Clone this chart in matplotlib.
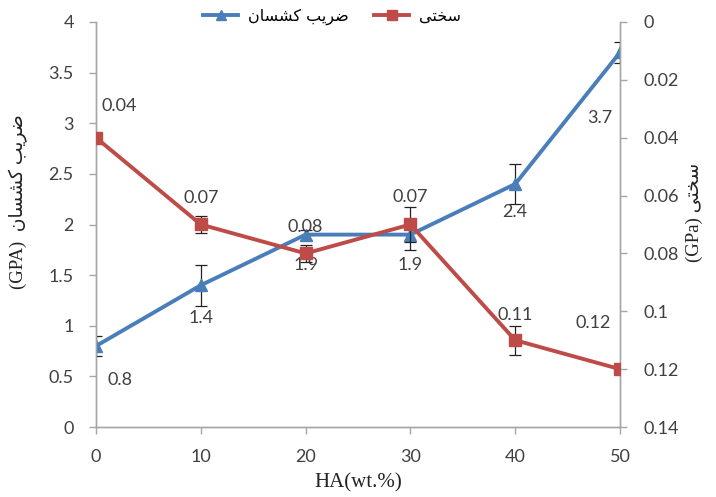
import matplotlib
matplotlib.use("Agg")
import matplotlib.pyplot as plt
from matplotlib.ticker import FuncFormatter
from matplotlib.lines import Line2D

# Data
ha_wt = [0, 10, 20, 30, 40, 50]
modulus = [0.8, 1.4, 1.9, 1.9, 2.4, 3.7]          # GPa, left axis
modulus_err = [0.1, 0.2, 0.05, 0.15, 0.2, 0.1]
hardness = [0.04, 0.07, 0.08, 0.07, 0.11, 0.12]    # GPa, right axis (inverted)
hardness_err = [0.0, 0.003, 0.003, 0.006, 0.005, 0.0]

# Persian labels, written in presentation forms in visual order
name_modulus = "\uFEE5\uFE8E\uFEB4\uFEB8\uFEDB \uFE90\uFEF3\uFEAE\uFEBF"   # ضریب کشسان
name_hardness = "\uFEF0\uFE98\uFEA8\uFEB3"                              # سختی

# offsets (pixels) for value labels
mod_label_off = [(24, -34), (0, -33), (0, -30), (0, -30), (0, -28), (-20, -66)]
hard_label_off = [(23, 32), (0, 26), (0, 26), (0, 27), (0, 25), (-27, 46)]

blue = "#4A7EBB"
red = "#BE4B48"
spine_c = "#A6A6A6"
txt_c = "#404040"
tick_font = "Lato"
num_size = 13

fig = plt.figure(figsize=(7.16, 4.97), dpi=100)
ax = fig.add_axes([96 / 716, 1 - 427 / 497, 524 / 716, 405 / 497])
ax2 = ax.twinx()

ax.errorbar(ha_wt, modulus, yerr=modulus_err, color=blue, lw=2.8, marker="^",
            ms=8, mfc=blue, mec=blue, ecolor="#222222", elinewidth=0.9,
            capsize=4, capthick=0.9, zorder=3)
ax2.errorbar(ha_wt, hardness, yerr=hardness_err, color=red, lw=2.8, marker="s",
             ms=8, mfc=red, mec=red, ecolor="#222222", elinewidth=0.9,
             capsize=4, capthick=0.9, zorder=3)

ax.set_xlim(0, 50)
ax.set_ylim(0, 4)
ax.set_yticks([0, 0.5, 1, 1.5, 2, 2.5, 3, 3.5, 4])
ax.set_xticks(ha_wt)
ax2.set_ylim(0.14, 0)
ax2.set_yticks([0, 0.02, 0.04, 0.06, 0.08, 0.1, 0.12, 0.14])

fmt = FuncFormatter(lambda v, p: ("%g" % round(v, 4)))
ax.yaxis.set_major_formatter(fmt)
ax2.yaxis.set_major_formatter(fmt)

for a in (ax, ax2):
    a.spines["top"].set_visible(False)
    for s in ("left", "right", "bottom"):
        a.spines[s].set_color(spine_c)
        a.spines[s].set_linewidth(1.0)
    a.tick_params(axis="both", colors=spine_c, length=5, width=1.0,
                  labelcolor=txt_c, labelsize=num_size)
    for lab in a.get_xticklabels() + a.get_yticklabels():
        lab.set_fontfamily(tick_font)
ax.tick_params(axis="y", pad=11)
ax.tick_params(axis="x", pad=11)
ax2.tick_params(axis="y", pad=12)
ax.set_zorder(1)
ax2.set_zorder(2)
ax.patch.set_visible(False)

# value labels
for x, y, off in zip(ha_wt, modulus, mod_label_off):
    ax.annotate("%g" % y, (x, y), xytext=off, textcoords="offset pixels",
                ha="center", va="center", fontsize=num_size, color=txt_c,
                family=tick_font, zorder=5)
for x, y, off in zip(ha_wt, hardness, hard_label_off):
    ax2.annotate("%g" % y, (x, y), xytext=off, textcoords="offset pixels",
                 ha="center", va="center", fontsize=num_size, color=txt_c,
                 family=tick_font, zorder=5)

# axis titles
ax.set_xlabel("HA(wt.%)", family="Liberation Serif", fontsize=15,
              color="#222222", labelpad=6)
fig.text(0.026, 0.595, "(GPA)  " + name_modulus, rotation=90, ha="center",
         va="center", fontsize=13.5, color="#222222",
         family=["Liberation Serif", "DejaVu Sans"])
fig.text(0.970, 0.573, "(GPa) " + name_hardness, rotation=90, ha="center",
         va="center", fontsize=13.5, color="#222222",
         family=["Liberation Serif", "DejaVu Sans"])

handles = [
    Line2D([], [], color=blue, lw=2.8, marker="^", ms=7),
    Line2D([], [], color=red, lw=2.8, marker="s", ms=7),
]
fig.legend(handles, [name_modulus, name_hardness], loc="center",
           bbox_to_anchor=(332 / 716, 1 - 17 / 497), ncol=2, frameon=False,
           handlelength=2.2, columnspacing=1.6, handletextpad=0.6,
           prop={"family": "DejaVu Sans", "size": 11.5})

fig.savefig("out.png", dpi=100)
